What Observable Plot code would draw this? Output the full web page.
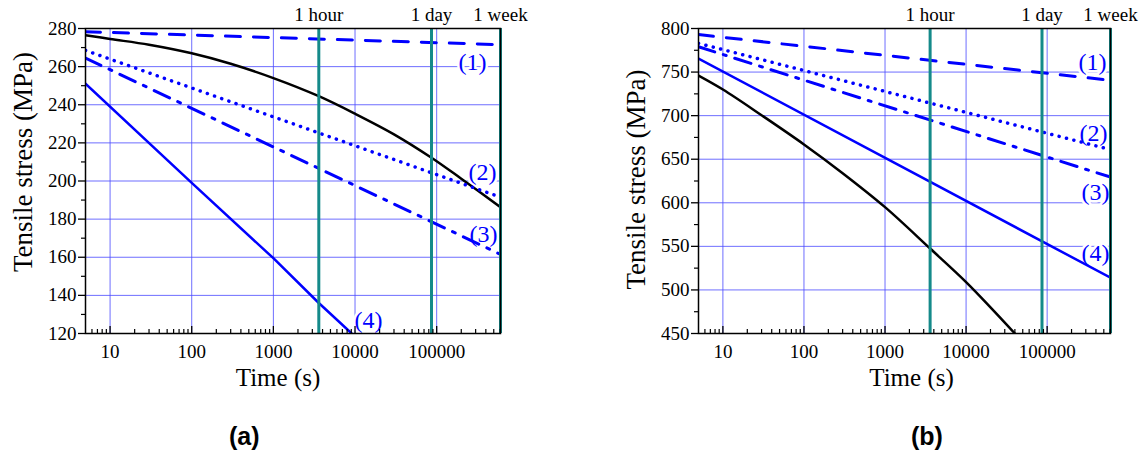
<!DOCTYPE html>
<html>
<head>
<meta charset="utf-8">
<script src="https://cdn.jsdelivr.net/npm/d3@7"></script>
<script src="https://cdn.jsdelivr.net/npm/@observablehq/plot@0.6"></script>
<style>
  body { margin: 0; background: #fff; }
  #wrap { position: relative; width: 1143px; height: 454px; overflow: hidden; background: #fff; }
  .panel { position: absolute; top: 0; }
  .panel svg { overflow: visible; }
  .tag { position: absolute; font-family: "Liberation Sans", Arial, sans-serif; font-weight: bold; font-size: 25px; line-height: 25px; color: #000; }
</style>
</head>
<body>
<div id="wrap">
  <div id="pa" class="panel" style="left:0px"></div>
  <div id="pb" class="panel" style="left:572px"></div>
  <div class="tag" style="left:229px; top:424px">(a)</div>
  <div class="tag" style="left:911px; top:424px">(b)</div>
</div>
<script>
// ---- shared time axis ----
const decades = [10, 100, 1000, 10000, 100000];
const minorTimes = [6, 7, 8, 9, 20, 30, 40, 50, 60, 70, 80, 90, 200, 300, 400, 500, 600, 700, 800, 900,
  2000, 3000, 4000, 5000, 6000, 7000, 8000, 9000, 20000, 30000, 40000, 50000, 60000, 70000, 80000, 90000,
  200000, 300000, 400000, 500000, 600000];
const markTimes = [3600, 86400, 604800];
const markNames = ["1 hour", "1 day", "1 week"];
const curveNames = ["(1)", "(2)", "(3)", "(4)"];

// ---- panel (a): stress relaxation, 120–280 MPa ----
const aYTicks = [120, 140, 160, 180, 200, 220, 240, 260, 280];
const aYMinor = [130, 150, 170, 190, 210, 230, 250, 270];
const aRefTime = [5, 10, 30, 100, 300, 1000, 3600, 10000, 30000, 86400, 200000, 604800];
const aRefStress = [276.5, 274.5, 271.5, 267, 261.5, 254, 244.5, 235.3, 224.5, 212.2, 201.2, 186.3];
const aTime123 = [5, 604800];
const aStress1 = [278.3, 271.5];
const aStress2 = [268.5, 191.5];
const aStress3 = [264.5, 161.5];
const aTime4 = [5, 100, 1000, 3600, 9100];
const aStress4 = [251, 199, 159.5, 136, 120];
const aLabelTime = [275000, 364000, 374000, 14600];
const aLabelStress = [262.2, 204.5, 171.9, 126.8];

// ---- panel (b): stress relaxation, 450–800 MPa ----
const bYTicks = [450, 500, 550, 600, 650, 700, 750, 800];
const bYMinor = [475, 525, 575, 625, 675, 725, 775];
const bRefTime = [5, 10, 30, 100, 300, 1000, 3600, 10000, 20000, 40000];
const bRefStress = [746, 730, 700.5, 667, 634, 595, 547.5, 509, 480, 450];
const bTime = [5, 604800];
const bStress1 = [793, 740.5];
const bStress2 = [783, 661];
const bStress3 = [779, 629.5];
const bStress4 = [765.5, 514];
const bLabelTime = [362700, 373000, 395000, 395000];
const bLabelStress = [761.6, 679.5, 611.8, 541.8];

const BLUE = "#0000ff";
const TEAL = "#158a8a";
const GRID = "#4a4aff";

function drawPanel(cfg) {
  const W = 571, H = 400, top = 28, plotH = 305;
  const labels = curveNames.map((name, i) => ({ name, t: cfg.labelTime[i], v: cfg.labelStress[i] }));
  const labelOpts = { x: "t", y: "v", text: "name", fontSize: 24, textAnchor: "middle", lineAnchor: "middle" };
  return Plot.plot({
    width: W,
    height: H,
    marginTop: top,
    marginBottom: H - top - plotH,
    marginLeft: cfg.marginLeft,
    marginRight: cfg.marginRight,
    style: { fontFamily: "'Liberation Serif', 'Times New Roman', serif", fontSize: "19px", color: "#000", background: "transparent", overflow: "visible" },
    x: { type: "log", domain: [5, 604800] },
    y: { domain: [cfg.yTicks[0], cfg.yTicks[cfg.yTicks.length - 1]] },
    marks: [
      // grid
      Plot.ruleX(decades, { stroke: GRID, strokeWidth: 1, strokeOpacity: 0.8 }),
      Plot.ruleY(cfg.yTicks.slice(1, -1), { stroke: GRID, strokeWidth: 1, strokeOpacity: 0.8 }),
      // white boxes behind the curve labels
      Plot.text(labels, { ...labelOpts, fill: "none", stroke: "white", strokeWidth: 5 }),
      // curves
      Plot.line(d3.zip(cfg.refTime, cfg.refStress), { stroke: "#000", strokeWidth: 2.5, curve: "catmull-rom", clip: true }),
      Plot.line(d3.zip(cfg.time1, cfg.stress1), { stroke: BLUE, strokeWidth: 3, strokeDasharray: "15 13", clip: true }),
      Plot.line(d3.zip(cfg.time2, cfg.stress2), { stroke: BLUE, strokeWidth: 3.5, strokeDasharray: "0.1 7.5", strokeLinecap: "round", clip: true }),
      Plot.line(d3.zip(cfg.time3, cfg.stress3), { stroke: BLUE, strokeWidth: 3, strokeDasharray: "17 9 3 9", clip: true }),
      Plot.line(d3.zip(cfg.time4, cfg.stress4), { stroke: BLUE, strokeWidth: 2.5, clip: true }),
      Plot.text(labels, { ...labelOpts, fill: BLUE }),
      // reference durations
      Plot.ruleX(markTimes, { stroke: TEAL, strokeWidth: 3 }),
      Plot.text(markTimes, { x: (d) => d, text: (d, i) => markNames[i], frameAnchor: "top", dy: -14, fontSize: 19, textAnchor: "middle", lineAnchor: "middle" }),
      // frame and axes
      Plot.frame({ stroke: "#000", strokeWidth: 1.5 }),
      Plot.axisY(cfg.yTicks, { tickSize: 7, tickPadding: 2, label: null, strokeWidth: 1.3 }),
      Plot.axisY(cfg.yMinor, { tickSize: 4, tickFormat: () => "", label: null, strokeWidth: 1.2 }),
      Plot.axisX(decades, { tickSize: 0, tickPadding: 11, label: null, tickFormat: (d) => String(d) }),
      Plot.ruleX(decades, { insetTop: plotH - 7, stroke: "#000", strokeWidth: 1.3 }),
      Plot.ruleX(minorTimes, { insetTop: plotH - 4, stroke: "#000", strokeWidth: 1.2 }),
      // axis titles
      Plot.text(["Time (s)"], { text: (d) => d, frameAnchor: "bottom", dy: 44, dx: cfg.xLabelDx, fontSize: 25, textAnchor: "middle", lineAnchor: "middle" }),
      Plot.text(["Tensile stress (MPa)"], { text: (d) => d, frameAnchor: "left", rotate: -90, dx: -62, dy: cfg.yLabelDy, fontSize: 27, textAnchor: "middle", lineAnchor: "middle" })
    ]
  });
}

document.getElementById("pa").append(drawPanel({
  marginLeft: 85, marginRight: 71,
  yTicks: aYTicks, yMinor: aYMinor,
  refTime: aRefTime, refStress: aRefStress,
  time1: aTime123, stress1: aStress1,
  time2: aTime123, stress2: aStress2,
  time3: aTime123, stress3: aStress3,
  time4: aTime4, stress4: aStress4,
  labelTime: aLabelTime, labelStress: aLabelStress,
  xLabelDx: -15, yLabelDy: -19
}));

document.getElementById("pb").append(drawPanel({
  marginLeft: 126, marginRight: 33,
  yTicks: bYTicks, yMinor: bYMinor,
  refTime: bRefTime, refStress: bRefStress,
  time1: bTime, stress1: bStress1,
  time2: bTime, stress2: bStress2,
  time3: bTime, stress3: bStress3,
  time4: bTime, stress4: bStress4,
  labelTime: bLabelTime, labelStress: bLabelStress,
  xLabelDx: 7, yLabelDy: -1.5
}));
</script>
</body>
</html>
